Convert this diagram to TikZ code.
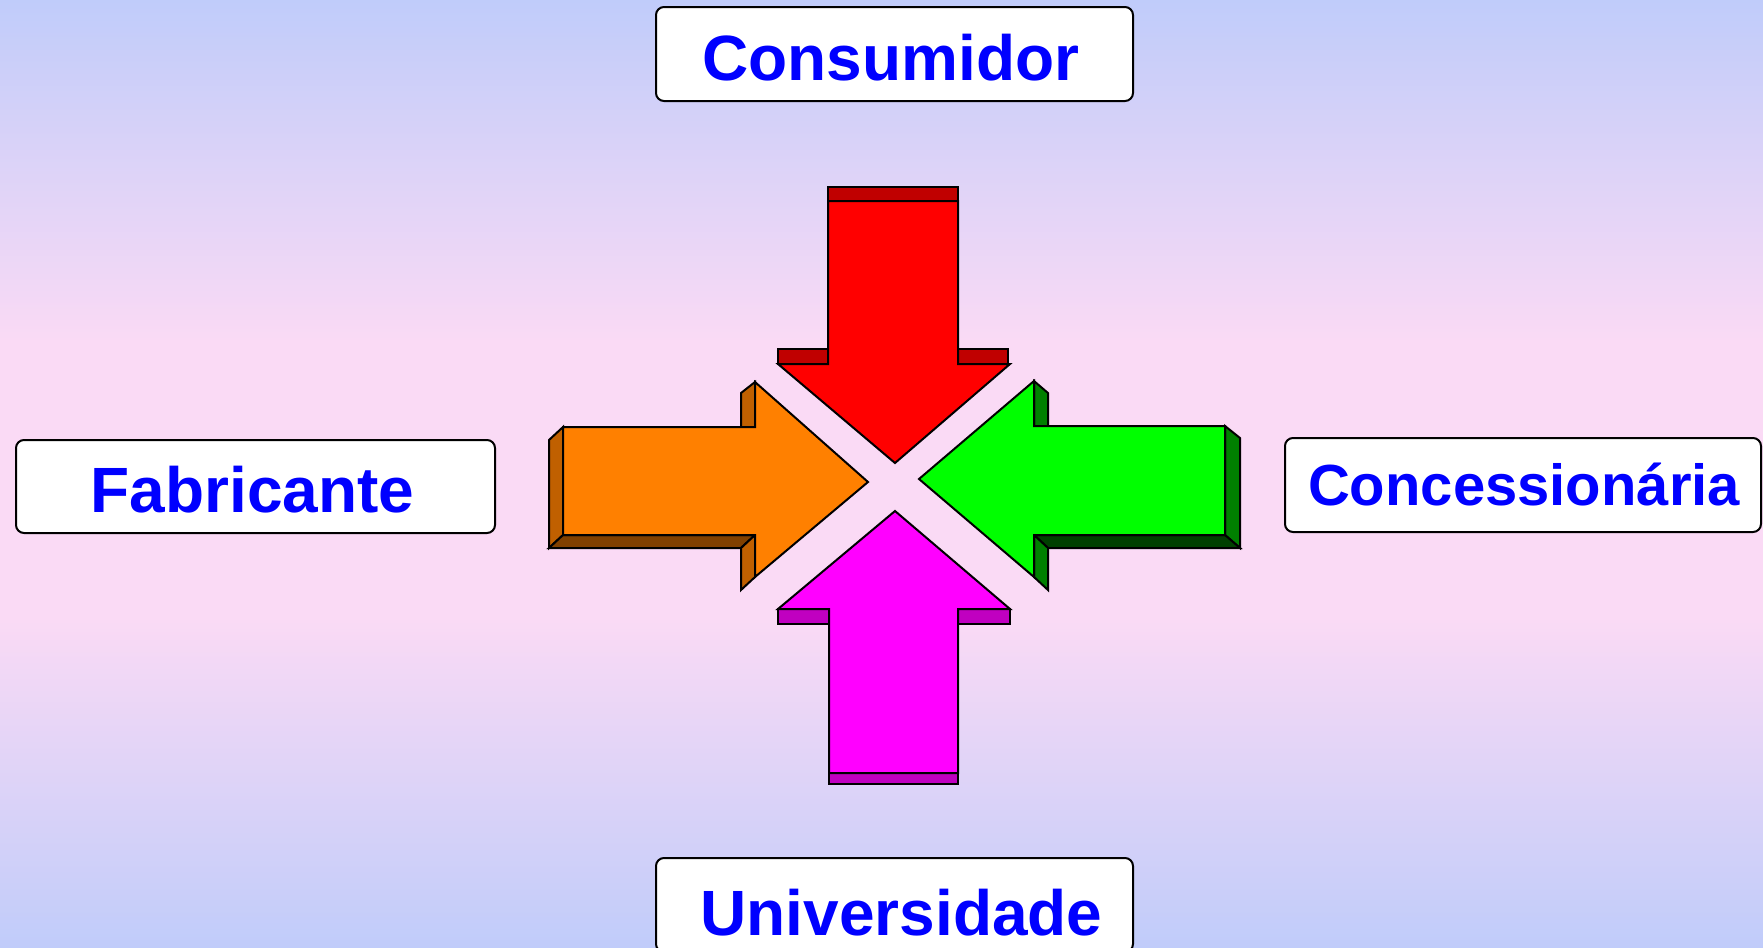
\documentclass[tikz,border=0pt]{standalone}
\usepackage{fontspec}
\setmainfont{Liberation Sans}
\definecolor{bgtop}{RGB}{192,204,250}
\definecolor{bgmid}{RGB}{250,218,245}
\definecolor{redfront}{RGB}{255,0,0}
\definecolor{redside}{RGB}{192,0,0}
\definecolor{magfront}{RGB}{255,0,255}
\definecolor{magside}{RGB}{192,0,192}
\definecolor{orafront}{RGB}{255,128,0}
\definecolor{oraside}{RGB}{192,96,0}
\definecolor{orabot}{RGB}{128,64,0}
\definecolor{grnfront}{RGB}{0,255,0}
\definecolor{grnside}{RGB}{0,128,0}
\definecolor{grnbot}{RGB}{0,64,0}
\definecolor{lblblue}{RGB}{0,0,255}
\tikzset{
  face/.style={draw=black, line width=1pt, line join=miter},
  labelbox/.style={draw=black, fill=white, line width=1pt, rounded corners=4pt,
    inner sep=0pt, minimum width=238.5pt, minimum height=47pt},
  lbl/.style={text=lblblue, font=\bfseries\fontsize{32pt}{36pt}\selectfont, inner sep=0pt, anchor=base},
}
\begin{document}
\begin{tikzpicture}[x=0.5pt, y=-0.5pt]
\useasboundingbox (0,0) rectangle (1763,948);
\clip (0,0) rectangle (1763,948);
% background gradient
\shade[top color=bgtop, bottom color=bgmid] (0,0) rectangle (1763,340.5);
\fill[bgmid] (0,340) rectangle (1763,620.5);
\shade[top color=bgmid, bottom color=bgtop] (0,620) rectangle (1763,948);

% label boxes
\node[labelbox] (consbox) at (894.5,54) {};
\node[lbl] (cons) at (891,80) {Consumidor};
\node[labelbox, minimum width=239.5pt, minimum height=46.5pt] (fabbox) at (255.5,486.5) {};
\node[lbl] (fab) at (252.5,512) {Fabricante};
\node[labelbox, minimum width=238pt] (concbox) at (1523,485) {};
\node[lbl, font=\bfseries\fontsize{29pt}{33pt}\selectfont] (conc) at (1524,505) {Concessionária};
\node[labelbox] (univbox) at (894.5,905) {};
\node[lbl] (univ) at (901.5,935) {Universidade};

% red arrow (down)
\draw[face, fill=redside] (778,349) rectangle (828,364);
\draw[face, fill=redside] (958,349) rectangle (1008,364);
\draw[face, fill=redside] (828,187) rectangle (958,201);
\draw[face, fill=redfront] (895,463) -- (778,364) -- (828,364) -- (828,201) -- (958,201) -- (958,364) -- (1010,364) -- cycle;

% magenta arrow (up)
\draw[face, fill=magside] (778,609) rectangle (829,624);
\draw[face, fill=magside] (958,609) rectangle (1010,624);
\draw[face, fill=magside] (829,773) rectangle (958,784);
\draw[face, fill=magfront] (895,511) -- (1010,609) -- (958,609) -- (958,773) -- (829,773) -- (829,609) -- (778,609) -- cycle;

% orange arrow (right)
\draw[face, fill=oraside] (563,427) -- (549,440) -- (549,548) -- (563,535) -- cycle;
\draw[face, fill=orabot] (563,535) -- (755,535) -- (741,548) -- (549,548) -- cycle;
\draw[face, fill=oraside] (755,382) -- (741,393) -- (741,427) -- (755,427) -- cycle;
\draw[face, fill=oraside] (755,535) -- (741,548) -- (741,590) -- (755,577) -- cycle;
\draw[face, fill=orafront] (563,427) -- (755,427) -- (755,382) -- (868,482) -- (755,577) -- (755,535) -- (563,535) -- cycle;

% green arrow (left)
\draw[face, fill=grnside] (1225,426) -- (1240,438) -- (1240,548) -- (1225,535) -- cycle;
\draw[face, fill=grnbot] (1034,535) -- (1225,535) -- (1240,548) -- (1048,548) -- cycle;
\draw[face, fill=grnside] (1034,381) -- (1048,393) -- (1048,426) -- (1034,426) -- cycle;
\draw[face, fill=grnside] (1034,535) -- (1048,548) -- (1048,590) -- (1034,577) -- cycle;
\draw[face, fill=grnfront] (1225,426) -- (1034,426) -- (1034,381) -- (919,479) -- (1034,577) -- (1034,535) -- (1225,535) -- cycle;
\end{tikzpicture}
\end{document}
